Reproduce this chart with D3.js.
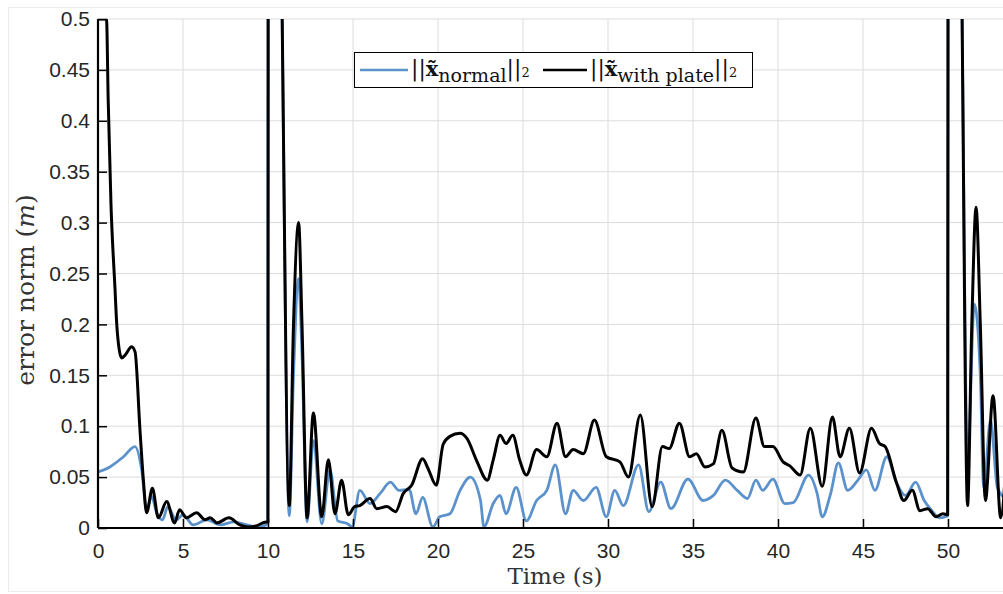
<!DOCTYPE html>
<html lang="en">
  <head>
    <meta charset="utf-8">
    <style>
      body { margin: 0; background: #fff; }
      .tick text { font-family: "Liberation Sans", Arial, sans-serif; font-size: 21px; fill: #262626; }
    </style>
    <script type="text/javascript" src="https://d3js.org/d3.v7.min.js"></script>
  </head>
  <body>
    <svg width="1003" height="594"></svg>
    <script>
      // time (s) and error norm (m)
      var normalT = [0, 0.7, 1.5, 2.18, 2.57, 2.86, 3.15, 3.45, 3.8, 4.1, 4.6, 5.0, 5.6, 6.4, 7.2, 8.0, 8.75, 9.5, 9.98,
        10.02, 10.5, 10.8, 11.25, 11.5, 11.8, 12.0, 12.3, 12.67, 13.16, 13.65, 14.1, 14.7, 14.95, 15.4, 16.0, 16.6, 17.2, 17.7,
        18.3, 18.7, 19.1, 19.7, 20.1, 20.7, 21.3, 21.9, 22.5, 22.7, 23.25, 23.65, 24.0, 24.6, 25.2, 25.8, 26.4, 26.9, 27.5,
        27.95, 28.55, 29.3, 29.9, 30.4, 30.9, 31.8, 32.4, 33.1, 33.7, 34.7, 35.6, 36.2, 36.9, 37.6, 38.2, 38.7, 39.1, 39.7,
        40.4, 40.9, 41.8, 42.3, 42.6, 43.1, 43.55, 44.1, 44.7, 45.2, 45.7, 46.4, 46.98, 47.5, 48.1, 48.6, 49.0, 49.5, 49.98,
        50.02, 50.5, 50.8, 51.15, 51.55, 51.9, 52.1, 52.5, 52.9, 53.3];
      var normalV = [0.055, 0.060, 0.070, 0.080, 0.057, 0.018, 0.031, 0.015, 0.008, 0.021, 0.008, 0.013, 0.003, 0.008, 0.003, 0.006, 0.003, 0.001, 0.004,
        0.9, 1.0, 0.55, 0.012, 0.15, 0.245, 0.17, 0.006, 0.086, 0.004, 0.057, 0.007, 0.004, 0.001, 0.037, 0.024, 0.034, 0.045, 0.037,
        0.038, 0.014, 0.030, 0.001, 0.011, 0.014, 0.037, 0.050, 0.027, 0.001, 0.024, 0.032, 0.014, 0.040, 0.007, 0.027, 0.037, 0.062, 0.014,
        0.037, 0.027, 0.040, 0.011, 0.037, 0.022, 0.062, 0.016, 0.045, 0.019, 0.048, 0.027, 0.032, 0.047, 0.037, 0.029, 0.047, 0.037, 0.048,
        0.024, 0.025, 0.052, 0.034, 0.011, 0.034, 0.064, 0.037, 0.047, 0.057, 0.037, 0.070, 0.044, 0.032, 0.045, 0.027, 0.018, 0.010, 0.012,
        0.9, 1.0, 0.55, 0.066, 0.22, 0.15, 0.04, 0.106, 0.04, 0.03];

      var plateT = [0, 0.5, 0.6, 0.76, 1.0, 1.1, 1.25, 1.39, 1.6, 1.98, 2.18, 2.47, 2.67, 2.86, 3.2, 3.55, 4.04, 4.5, 4.8, 5.2, 5.8,
        6.3, 6.6, 7.0, 7.7, 8.35, 8.84, 9.3, 9.9, 10.0,
        10.02, 10.5, 10.8, 11.25, 11.5, 11.8, 12.0, 12.3, 12.67, 13.16, 13.55, 13.94, 14.33, 14.72, 15.1, 15.4, 16.0, 16.4, 17.0,
        17.5, 17.96, 18.45, 19.1, 19.4, 19.9, 20.3, 20.7, 21.3, 21.7, 22.3, 22.9, 23.25, 23.65, 24.0, 24.4, 24.8, 25.2, 25.8,
        26.4, 27.0, 27.5, 27.95, 28.55, 29.2, 29.9, 30.7, 31.2, 31.9, 32.6, 33.2, 33.6, 34.2, 34.8, 35.2, 35.7, 36.2, 36.7,
        37.3, 37.96, 38.7, 39.2, 39.7, 40.3, 40.7, 41.3, 41.9, 42.6, 43.2, 43.65, 44.2, 44.8, 45.5, 45.97, 46.3, 46.98, 47.4,
        47.9, 48.35, 48.8, 49.3, 49.7, 49.98,
        50.02, 50.5, 50.8, 51.15, 51.4, 51.65, 51.9, 52.2, 52.65, 53.1, 53.4];
      var plateV = [0.5, 0.5, 0.42, 0.32, 0.235, 0.201, 0.175, 0.167, 0.170, 0.178, 0.173, 0.096, 0.047, 0.015, 0.039, 0.010, 0.026, 0.005, 0.018, 0.010, 0.015,
        0.008, 0.010, 0.005, 0.010, 0.003, 0.001, 0.002, 0.006, 0.006,
        0.95, 1.0, 0.55, 0.022, 0.2, 0.30, 0.2, 0.01, 0.113, 0.011, 0.067, 0.014, 0.047, 0.013, 0.021, 0.022, 0.029, 0.019, 0.021,
        0.016, 0.034, 0.042, 0.068, 0.059, 0.042, 0.082, 0.090, 0.093, 0.088, 0.065, 0.047, 0.067, 0.091, 0.083, 0.091, 0.067, 0.052, 0.077,
        0.070, 0.103, 0.070, 0.077, 0.073, 0.106, 0.070, 0.065, 0.050, 0.111, 0.021, 0.080, 0.078, 0.103, 0.070, 0.073, 0.060, 0.063, 0.096,
        0.059, 0.055, 0.108, 0.080, 0.080, 0.065, 0.061, 0.052, 0.098, 0.041, 0.109, 0.070, 0.098, 0.054, 0.098, 0.083, 0.080, 0.044, 0.027,
        0.037, 0.017, 0.019, 0.011, 0.014, 0.013,
        0.95, 1.0, 0.55, 0.022, 0.2, 0.315, 0.2, 0.027, 0.13, 0.01, 0.06];

      var xTicks = [0, 5, 10, 15, 20, 25, 30, 35, 40, 45, 50];
      var yTicks = [0, 0.05, 0.1, 0.15, 0.2, 0.25, 0.3, 0.35, 0.4, 0.45, 0.5];

      var svg = d3.select("svg");
      var pLeft = 98, pTop = 19, pBottom = 528, pRight = 1016;

      var x = d3.scaleLinear().domain([0, 54]).range([pLeft, pRight]);
      var y = d3.scaleLinear().domain([0, 0.5]).range([pBottom, pTop]);

      // light outer frame of the figure
      svg.append("rect")
        .attr("x", 8.5).attr("y", 7.5)
        .attr("width", 1000).attr("height", 584)
        .attr("fill", "none")
        .attr("stroke", "#ebebeb");

      // grid
      svg.append("g").selectAll("line")
        .data(xTicks)
        .enter().append("line")
        .attr("x1", function (d) { return x(d); })
        .attr("x2", function (d) { return x(d); })
        .attr("y1", pTop).attr("y2", pBottom)
        .attr("stroke", "#dcdcdc");
      svg.append("g").selectAll("line")
        .data(yTicks)
        .enter().append("line")
        .attr("y1", function (d) { return y(d); })
        .attr("y2", function (d) { return y(d); })
        .attr("x1", pLeft).attr("x2", pRight)
        .attr("stroke", "#dcdcdc");

      svg.append("clipPath").attr("id", "plot")
        .append("rect")
        .attr("x", pLeft).attr("y", pTop)
        .attr("width", pRight - pLeft).attr("height", pBottom - pTop);

      var line = d3.line()
        .x(function (d) { return x(d[0]); })
        .y(function (d) { return y(d[1]); })
        .curve(d3.curveMonotoneX);

      var normal = d3.zip(normalT, normalV);
      var plate = d3.zip(plateT, plateV);

      var lines = svg.append("g").attr("clip-path", "url(#plot)");
      lines.append("path")
        .datum(normal)
        .attr("d", line)
        .attr("fill", "none")
        .attr("stroke", "#5b92cc")
        .attr("stroke-width", 2.8)
        .attr("stroke-linejoin", "round");
      lines.append("path")
        .datum(plate)
        .attr("d", line)
        .attr("fill", "none")
        .attr("stroke", "#000")
        .attr("stroke-width", 3)
        .attr("stroke-linejoin", "round");

      // axes, ticks pointing inward
      var yAxis = svg.append("g")
        .attr("transform", "translate(" + pLeft + ",0)")
        .call(d3.axisLeft(y).tickValues(yTicks).tickSize(-9).tickPadding(8)
          .tickFormat(function (d) { return d3.format("~g")(d); }));
      var xAxis = svg.append("g")
        .attr("transform", "translate(0," + pBottom + ")")
        .call(d3.axisBottom(x).tickValues(xTicks).tickSize(-9).tickPadding(15));
      [xAxis, yAxis].forEach(function (a) {
        a.select(".domain").attr("stroke", "#000").attr("stroke-width", 2.2);
        a.selectAll(".tick line").attr("stroke", "#000").attr("stroke-width", 1.5);
      });
      yAxis.select(".domain").attr("d", "M0," + pBottom + "V" + pTop);
      xAxis.select(".domain").attr("d", "M" + pLeft + ",0H" + pRight);

      // axis titles
      svg.append("text")
        .attr("transform", "translate(34,290) rotate(-90)")
        .attr("text-anchor", "middle")
        .attr("font-family", "'DejaVu Serif', serif")
        .attr("font-size", "25px")
        .attr("fill", "#333")
        .html("error norm (<tspan font-style='italic'>m</tspan>)");
      svg.append("text")
        .attr("x", 555).attr("y", 584)
        .attr("text-anchor", "middle")
        .attr("font-family", "'DejaVu Serif', serif")
        .attr("font-size", "23px")
        .attr("fill", "#333")
        .text("Time (s)");

      // legend
      var lg = svg.append("g");
      lg.append("rect")
        .attr("x", 354.5).attr("y", 52.5)
        .attr("width", 398).attr("height", 35)
        .attr("fill", "#fff")
        .attr("stroke", "#000");
      var entries = [
        { name: "normal", color: "#5b92cc", x0: 360, x1: 408 },
        { name: "with plate", color: "#000", x0: 543, x1: 587 }
      ];
      entries.forEach(function (e) {
        lg.append("line")
          .attr("x1", e.x0).attr("x2", e.x1)
          .attr("y1", 70).attr("y2", 70)
          .attr("stroke", e.color)
          .attr("stroke-width", 2.6);
        var t = lg.append("text")
          .attr("x", e.x1 + 3).attr("y", 76)
          .attr("font-family", "'DejaVu Serif', serif")
          .attr("font-size", "21px")
          .attr("fill", "#111");
        t.append("tspan").attr("font-size", "22px").text("||");
        t.append("tspan").attr("font-weight", "bold").text("x\u0303");
        t.append("tspan").attr("dy", 6).attr("font-size", "19px").text(e.name);
        t.append("tspan").attr("dy", -6).attr("font-size", "22px").text("||");
        t.append("tspan").attr("dy", 1).attr("font-size", "13px").text("2");
      });
    </script>
  </body>
</html>
